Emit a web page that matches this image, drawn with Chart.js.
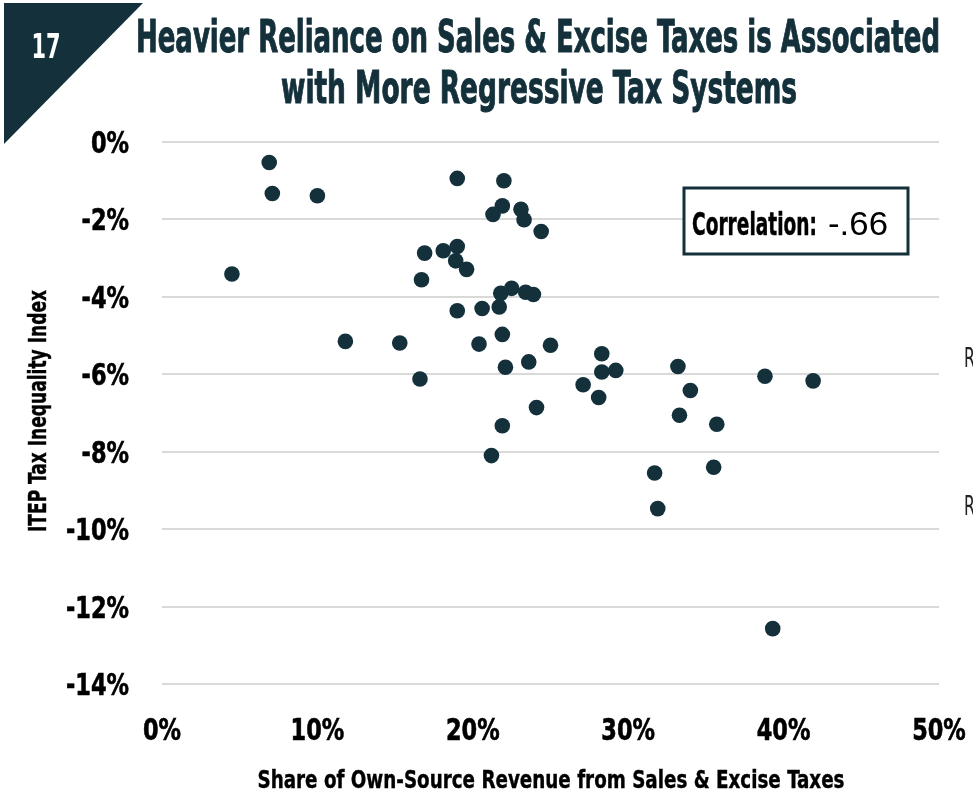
<!DOCTYPE html>
<html>
<head>
<meta charset="utf-8">
<script src="https://cdn.jsdelivr.net/npm/chart.js@4.4.1/dist/chart.umd.min.js"></script>
<style>
  html, body { margin: 0; padding: 0; background: #fff; }
  #wrap { width: 973px; height: 795px; position: relative; }
</style>
</head>
<body>
<div id="wrap"><canvas id="taxChart" width="973" height="795"></canvas></div>
<script>
// share of own-source revenue from sales & excise taxes (%)
const salesShare = [
  6.9, 7.1, 10.0, 4.5, 19.0, 22.0, 21.9, 21.3, 23.1, 23.3,
  24.4, 16.9, 18.1, 19.0, 18.9, 19.6, 16.7, 21.8, 22.5, 23.4,
  23.9, 19.0, 20.6, 21.7, 11.8, 15.3, 21.9, 20.4, 25.0, 23.6,
  22.1, 16.6, 24.1, 21.9, 28.3, 28.3, 29.2, 27.1, 28.1, 21.2,
  33.2, 34.0, 33.3, 35.7, 31.7, 35.5, 31.9, 38.8, 41.9, 39.3
];
// ITEP tax inequality index (%)
const inequalityIndex = [
  -0.53, -1.33, -1.39, -3.41, -0.94, -1.00, -1.65, -1.87, -1.74, -2.01,
  -2.31, -2.87, -2.81, -2.70, -3.07, -3.29, -3.56, -3.91, -3.78, -3.88,
  -3.94, -4.36, -4.30, -4.26, -5.15, -5.19, -4.97, -5.22, -5.25, -5.68,
  -5.82, -6.12, -6.86, -7.33, -5.47, -5.94, -5.90, -6.27, -6.60, -8.10,
  -5.80, -6.42, -7.06, -7.29, -8.55, -8.40, -9.47, -6.05, -6.17, -12.57
];
const xTicks = [0, 10, 20, 30, 40, 50];
const yTicks = [0, -2, -4, -6, -8, -10, -12, -14];

const titleLines = [
  "Heavier Reliance on Sales & Excise Taxes is Associated",
  "with More Regressive Tax Systems"
];
const xTitle = "Share of Own-Source Revenue from Sales & Excise Taxes";
const yTitle = "ITEP Tax Inequality Index";
const correlation = "-.66";

const NARROW = "'Liberation Sans Narrow', 'DejaVu Sans Condensed', sans-serif";
const DARK = "#13303b";

const points = salesShare.map((x, i) => ({ x: x, y: inequalityIndex[i] }));

// draw text squeezed to a target width (the original uses a condensed face)
function fitText(ctx, text, x, y, width, align, stroke) {
  const w = ctx.measureText(text).width;
  drawScaled(ctx, text, x, y, width / w, align, stroke);
}
function drawScaled(ctx, text, x, y, s, align, stroke) {
  ctx.save();
  ctx.translate(x, y);
  ctx.scale(s, 1);
  ctx.textAlign = align || "center";
  ctx.fillText(text, 0, 0);
  if (stroke) {
    ctx.lineWidth = stroke;
    ctx.strokeStyle = ctx.fillStyle;
    ctx.strokeText(text, 0, 0);
  }
  ctx.restore();
}

const decorations = {
  id: "decorations",
  beforeDraw(chart) {
    const ctx = chart.ctx;
    ctx.save();
    ctx.fillStyle = "#fff";
    ctx.fillRect(0, 0, chart.width, chart.height);
    // corner badge
    ctx.fillStyle = DARK;
    ctx.beginPath();
    ctx.moveTo(4, 3);
    ctx.lineTo(143, 3);
    ctx.lineTo(4, 144);
    ctx.closePath();
    ctx.fill();
    ctx.fillStyle = "#fff";
    ctx.font = "bold 33px " + NARROW;
    ctx.textBaseline = "alphabetic";
    fitText(ctx, "17", 46, 58, 29);
    ctx.restore();
  },
  afterDraw(chart) {
    const ctx = chart.ctx;
    const xs = chart.scales.x, ys = chart.scales.y;
    ctx.save();
    ctx.textBaseline = "alphabetic";

    // tick labels, squeezed like the condensed face in the original
    ctx.fillStyle = "#000";
    ctx.font = "bold 30px " + NARROW;
    const sq = 63 / ctx.measureText("-14%").width;
    yTicks.forEach((v) => {
      drawScaled(ctx, v + "%", 129, ys.getPixelForValue(v) + 11, sq, "right", 0.6);
    });
    xTicks.forEach((v) => {
      drawScaled(ctx, v + "%", xs.getPixelForValue(v), 740, sq, "center", 0.6);
    });

    // title
    ctx.fillStyle = DARK;
    ctx.font = "bold 45px " + NARROW;
    fitText(ctx, titleLines[0], 538, 52, 804, "center", 1);
    fitText(ctx, titleLines[1], 539, 103, 516, "center", 1);

    // axis titles
    ctx.fillStyle = "#000";
    ctx.font = "bold 25px " + NARROW;
    fitText(ctx, xTitle, 551, 788, 587, "center", 0.4);
    ctx.save();
    ctx.translate(46, 411);
    ctx.rotate(-Math.PI / 2);
    fitText(ctx, yTitle, 0, 0, 242, "center", 0.4);
    ctx.restore();

    // correlation box
    ctx.fillStyle = "#fff";
    ctx.fillRect(684, 188, 224, 66);
    ctx.strokeStyle = DARK;
    ctx.lineWidth = 3;
    ctx.strokeRect(684, 188, 224, 66);
    ctx.fillStyle = "#000";
    ctx.font = "bold 32px " + NARROW;
    fitText(ctx, "Correlation:", 692, 235, 125, "left", 0.5);
    ctx.font = "33px 'Liberation Sans', 'DejaVu Sans', sans-serif";
    fitText(ctx, correlation, 828, 235, 60, "left");

    // clipped labels at the right edge
    ctx.fillStyle = "#222";
    ctx.font = "27px " + NARROW;
    fitText(ctx, "R", 964, 367, 11, "left");
    fitText(ctx, "R", 964, 515, 11, "left");
    ctx.restore();
  }
};

const ctx = document.getElementById("taxChart").getContext("2d");
const taxChart = new Chart(ctx, {
  type: "scatter",
  data: {
    datasets: [
      {
        label: "States",
        data: points,
        backgroundColor: DARK,
        borderWidth: 0,
        pointRadius: 7.8,
        pointHoverRadius: 7.8,
      },
    ],
  },
  options: {
    responsive: false,
    animation: false,
    events: [],
    layout: { padding: { top: 142, right: 34, left: 0, bottom: 0 } },
    plugins: { legend: { display: false }, tooltip: { enabled: false } },
    scales: {
      x: {
        type: "linear",
        min: 0,
        max: 50,
        afterFit: (scale) => { scale.height = 111; scale.paddingLeft = 0; scale.paddingRight = 0; },
        afterBuildTicks: (scale) => { scale.ticks = xTicks.map((v) => ({ value: v })); },
        grid: { display: false, drawTicks: false },
        border: { display: false },
        ticks: { display: false },
      },
      y: {
        type: "linear",
        min: -14,
        max: 0,
        afterFit: (scale) => { scale.width = 162; scale.paddingTop = 0; scale.paddingBottom = 0; },
        afterBuildTicks: (scale) => { scale.ticks = yTicks.map((v) => ({ value: v })); },
        grid: { color: "#d9d9d9", lineWidth: 2, drawTicks: false },
        border: { display: false },
        ticks: { display: false },
      },
    },
  },
  plugins: [decorations],
});
</script>
</body>
</html>
